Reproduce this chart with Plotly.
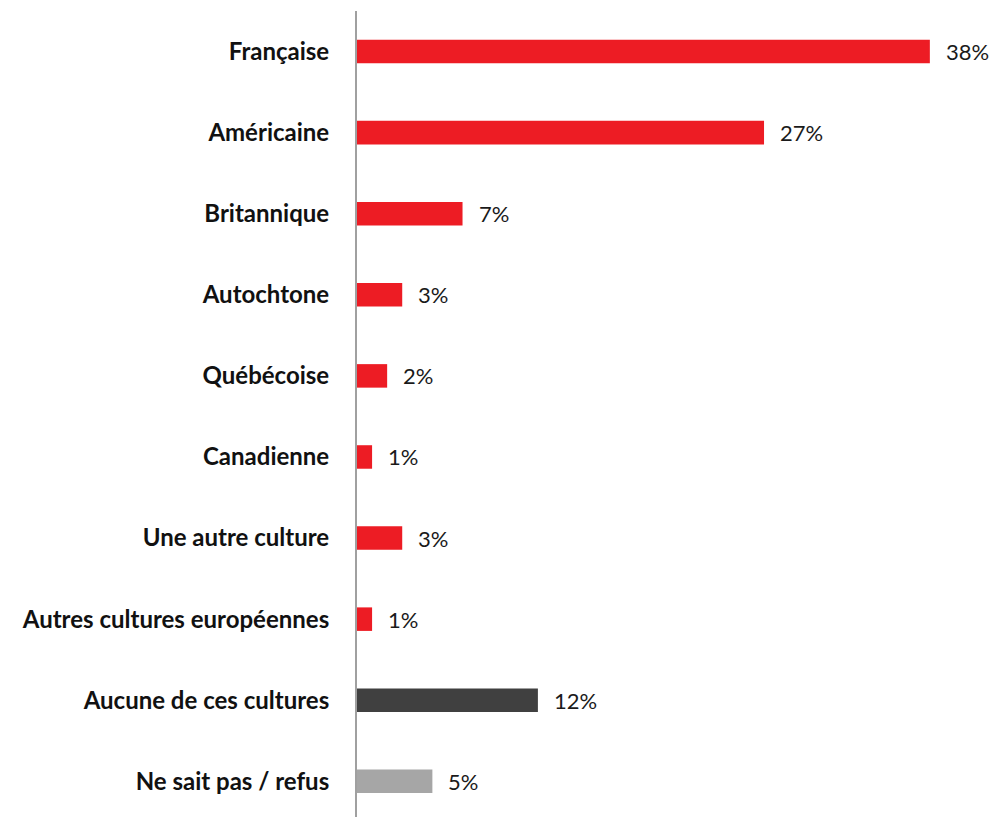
import plotly.graph_objects as go

categories = ["Française", "Américaine", "Britannique", "Autochtone", "Québécoise",
              "Canadienne", "Une autre culture", "Autres cultures européennes",
              "Aucune de ces cultures", "Ne sait pas / refus"]
values = [38, 27, 7, 3, 2, 1, 3, 1, 12, 5]
colors = ["#ED1C24"] * 8 + ["#404040", "#A6A6A6"]
labels = [f"{v}%" for v in values]

FONT = "Lato, 'Open Sans', sans-serif"

fig = go.Figure()
fig.add_trace(go.Bar(
    x=values, y=categories, orientation="h",
    marker=dict(color=colors, line=dict(width=0)),
    width=0.29, hoverinfo="skip",
))

for c, v, t in zip(categories, values, labels):
    fig.add_annotation(x=v, y=c, text=t, showarrow=False, xanchor="left",
                       xshift=14, yshift=0,
                       font=dict(family=FONT, size=22, color="#1a1a1a"))

fig.update_layout(
    width=994, height=817,
    margin=dict(l=357, r=34, t=11, b=0),
    plot_bgcolor="white", paper_bgcolor="white",
    showlegend=False,
    xaxis=dict(range=[0, 40], visible=False, fixedrange=True),
    yaxis=dict(
        type="category", categoryorder="array", categoryarray=categories,
        range=[9.44, -0.5],
        showline=True, linecolor="#A0A0A0", linewidth=2,
        showgrid=False, zeroline=False, ticks="",
        ticklabelstandoff=21,
        tickfont=dict(family=FONT, size=24, color="#111111", weight="bold"),
    ),
)

fig.write_html("out.html")
